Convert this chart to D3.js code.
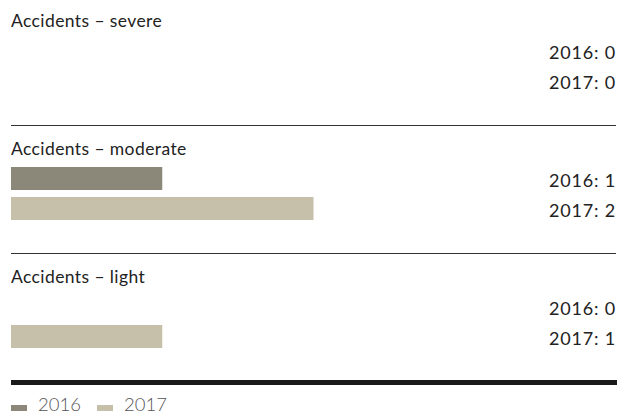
<!DOCTYPE html>
<html>
<head>
<meta charset="utf-8">
<script src="https://cdn.jsdelivr.net/npm/d3@7"></script>
<style>
  html, body { margin: 0; padding: 0; background: #fff; }
  svg { display: block; font-family: Lato, "Open Sans", sans-serif; }
</style>
</head>
<body>
<svg id="chart" width="629" height="414"></svg>
<script>
const categories = ["Accidents – severe", "Accidents – moderate", "Accidents – light"];
const years = ["2016", "2017"];
const values2016 = [0, 1, 0];
const values2017 = [0, 2, 1];
const colors = ["#8b887a", "#c6c0ab"];

const svg = d3.select("#chart");
const left = 11, right = 616;
const groupH = 128;

const x = d3.scaleLinear().domain([0, 4]).range([left, right]);
const groupY = d3.scaleBand().domain(categories).range([-3, -3 + groupH * categories.length]).padding(0);
const rowY = d3.scaleBand().domain(years).range([42, 95]).paddingInner(7 / 30);

const rows = categories.map((c, i) => ({ cat: c, vals: [values2016[i], values2017[i]] }));

const g = svg.selectAll("g.group").data(rows).join("g")
  .attr("class", "group")
  .attr("transform", d => `translate(0,${groupY(d.cat)})`);

g.append("text")
  .attr("x", left).attr("y", 30)
  .attr("font-size", 17.5).attr("letter-spacing", 0.4).attr("fill", "#222")
  .text(d => d.cat);

g.selectAll("rect").data(d => d.vals.map((v, j) => ({ v, year: years[j], j }))).join("rect")
  .attr("x", x(0))
  .attr("y", d => rowY(d.year))
  .attr("width", d => x(d.v) - x(0))
  .attr("height", rowY.bandwidth())
  .attr("fill", d => colors[d.j]);

g.selectAll("text.val").data(d => d.vals.map((v, j) => ({ v, year: years[j] }))).join("text")
  .attr("class", "val")
  .attr("x", right).attr("y", d => rowY(d.year) + rowY.bandwidth() / 2 + 8.8)
  .attr("text-anchor", "end")
  .attr("font-size", 18).attr("letter-spacing", 0.8).attr("fill", "#222")
  .text(d => `${d.year}: ${d.v}`);

// separators between groups
svg.selectAll("line.sep").data(categories.slice(0, -1)).join("line")
  .attr("class", "sep")
  .attr("x1", left).attr("x2", right)
  .attr("y1", d => groupY(d) + groupH + 0.5)
  .attr("y2", d => groupY(d) + groupH + 0.5)
  .attr("stroke", "#333").attr("stroke-width", 1);

// closing baseline
svg.append("rect")
  .attr("x", left).attr("width", right - left + 1)
  .attr("y", 380).attr("height", 5)
  .attr("fill", "#1a1a1a");

// legend
const legend = svg.append("g").attr("transform", "translate(11,0)");
const legendX = [0, 86];
years.forEach((yr, j) => {
  legend.append("rect")
    .attr("x", legendX[j]).attr("y", 405)
    .attr("width", 16).attr("height", 6)
    .attr("fill", colors[j]);
  legend.append("text")
    .attr("x", legendX[j] + 27).attr("y", 411)
    .attr("font-size", 18.5).attr("font-weight", 300).attr("fill", "#555")
    .text(yr);
});
</script>
</body>
</html>
